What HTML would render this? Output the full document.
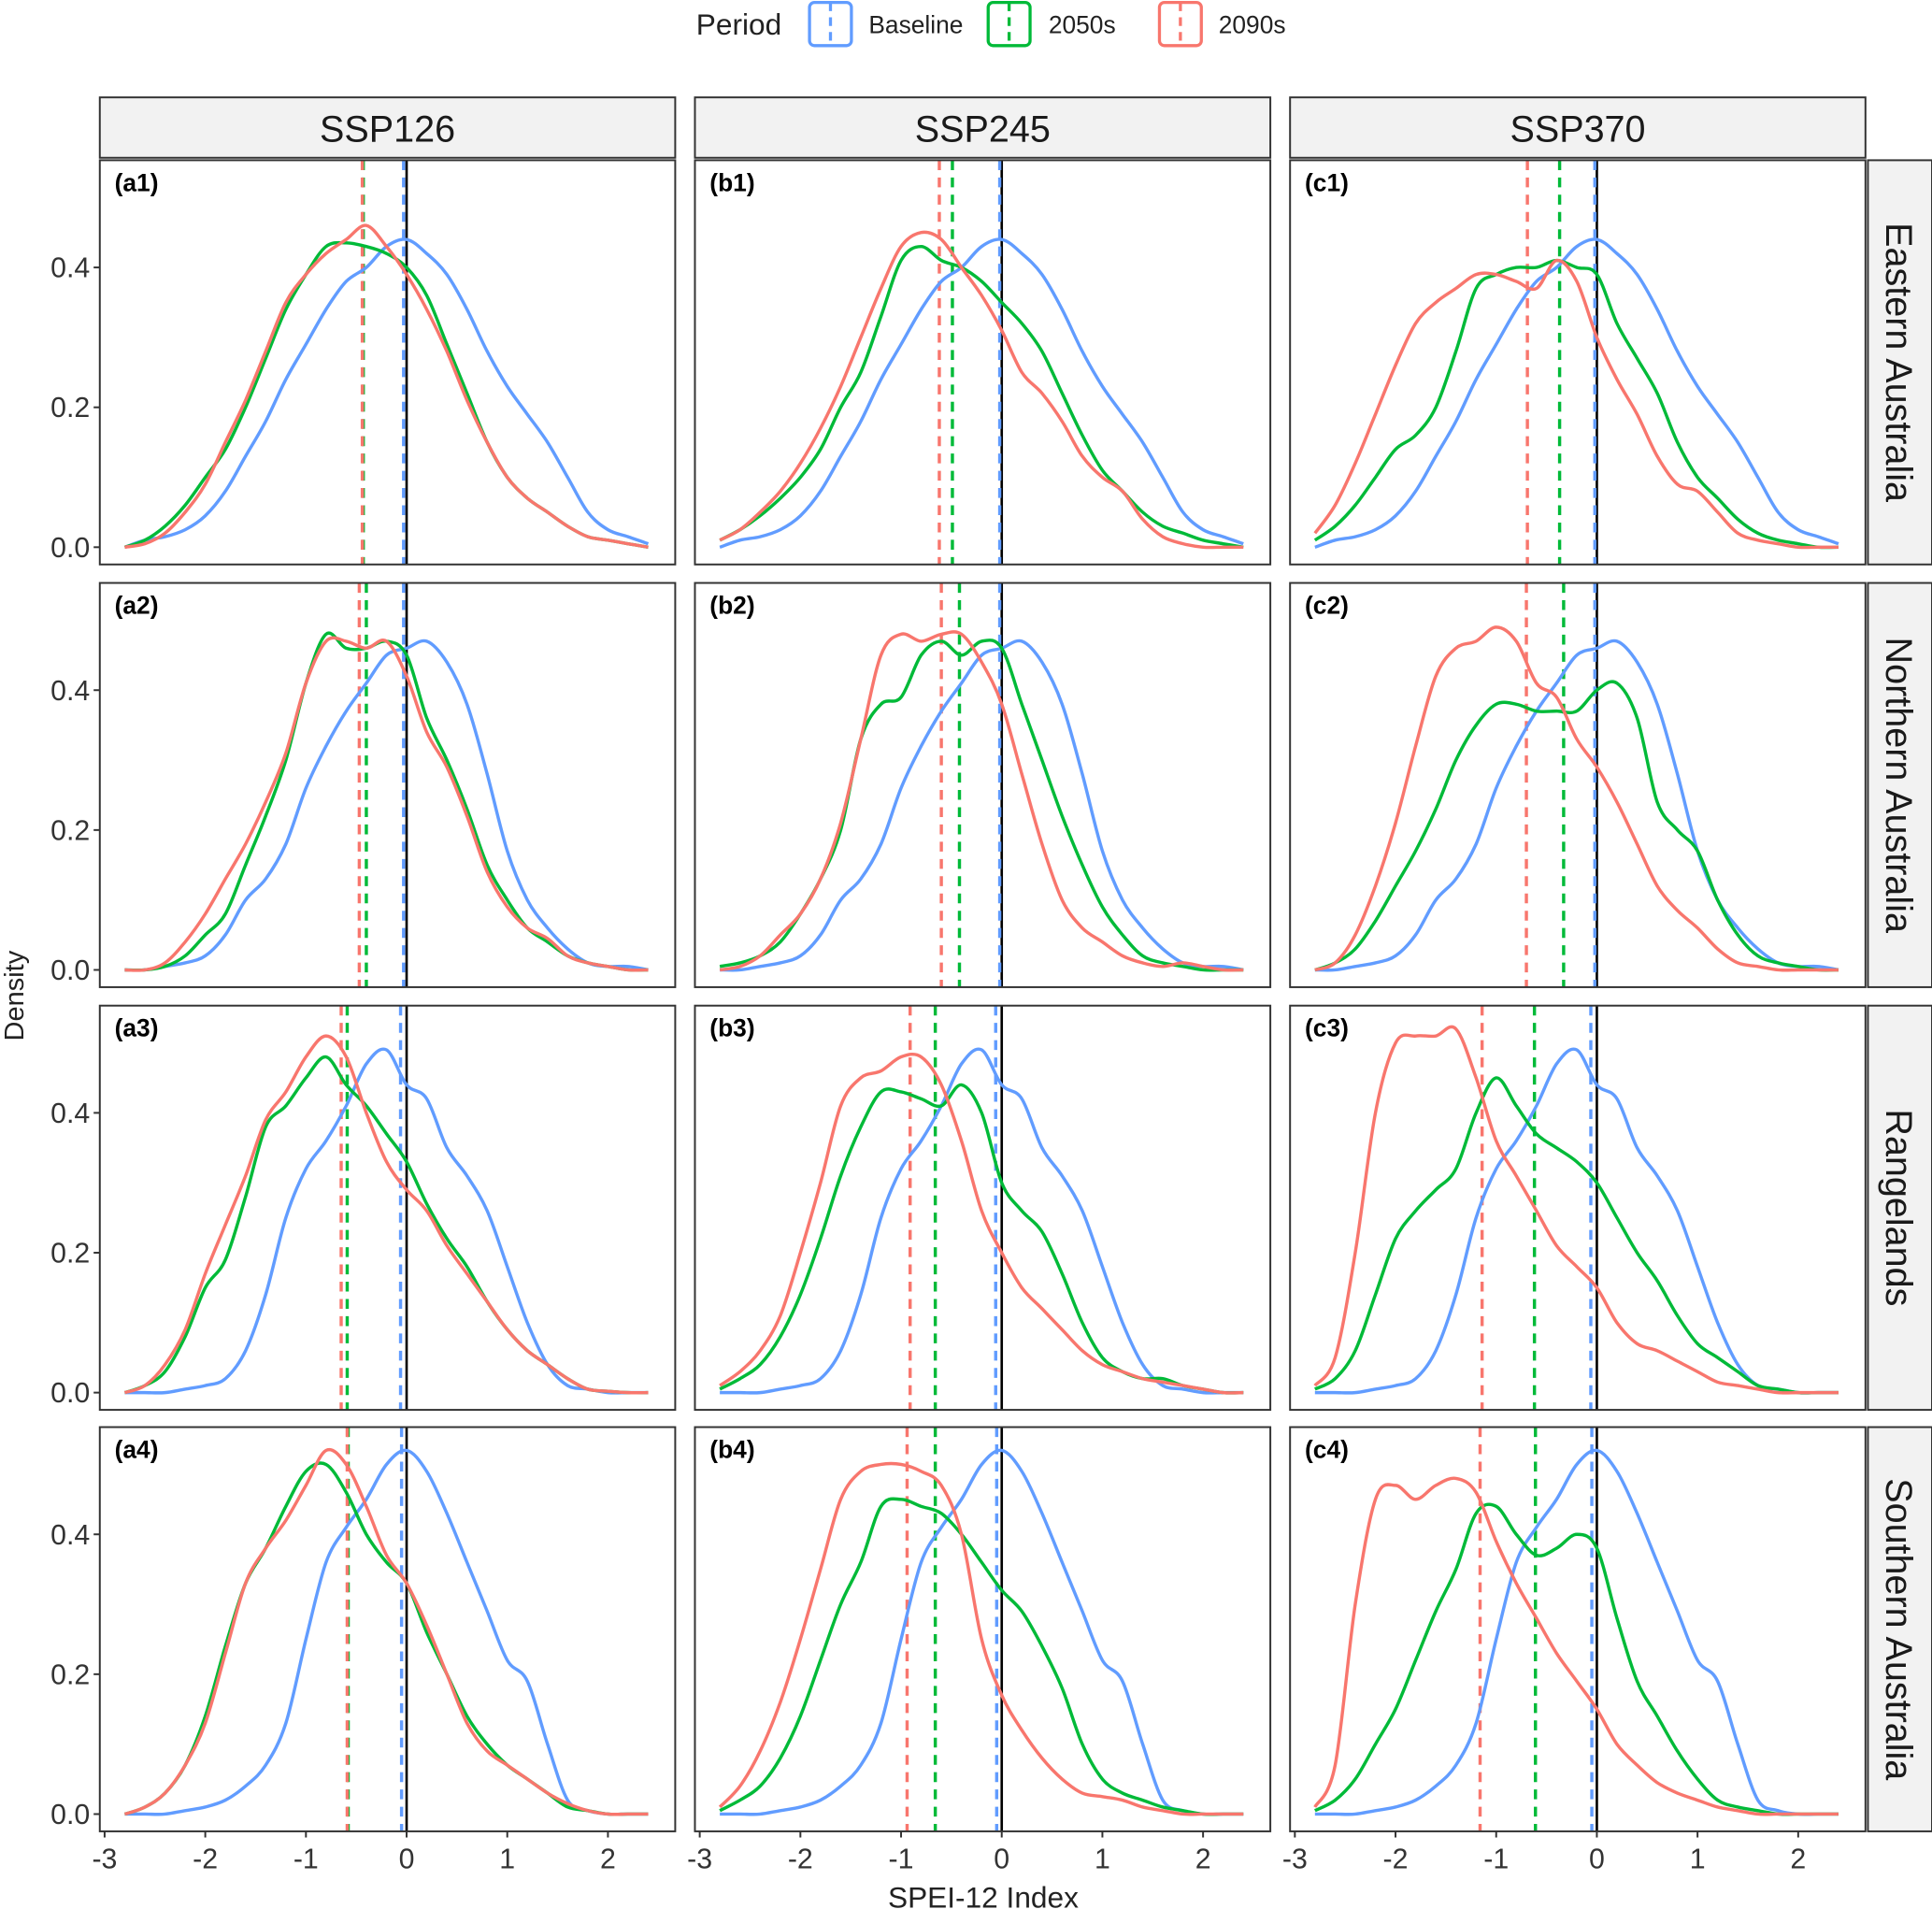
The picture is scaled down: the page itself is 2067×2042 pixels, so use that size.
<!DOCTYPE html>
<html><head><meta charset="utf-8"><style>
html,body{margin:0;padding:0;background:#fff}
svg{display:block;font-family:"Liberation Sans",Arial,sans-serif}
</style></head><body>
<svg id="chart" width="2067" height="2042" viewBox="0 0 1568 1549" xmlns="http://www.w3.org/2000/svg">
<g id="legend">
<text x="565" y="28" font-size="24" fill="#222">Period</text>
<g><rect x="657" y="2" width="34" height="35" rx="4" fill="#fff" stroke="#619CFF" stroke-width="2.5"/><line x1="674" y1="2" x2="674" y2="37" stroke="#619CFF" stroke-width="2.5" stroke-dasharray="7,5"/><text x="705" y="27" font-size="20" fill="#222">Baseline</text></g>
<g><rect x="802" y="2" width="34" height="35" rx="4" fill="#fff" stroke="#00BA38" stroke-width="2.5"/><line x1="819" y1="2" x2="819" y2="37" stroke="#00BA38" stroke-width="2.5" stroke-dasharray="7,5"/><text x="851" y="27" font-size="20" fill="#222">2050s</text></g>
<g><rect x="941" y="2" width="34" height="35" rx="4" fill="#fff" stroke="#F8766D" stroke-width="2.5"/><line x1="958" y1="2" x2="958" y2="37" stroke="#F8766D" stroke-width="2.5" stroke-dasharray="7,5"/><text x="989" y="27" font-size="20" fill="#222">2090s</text></g>
</g>
<text x="798" y="1548" font-size="24" text-anchor="middle" fill="#222">SPEI-12 Index</text>
<text transform="translate(19,808) rotate(-90)" font-size="22" text-anchor="middle" fill="#222">Density</text>
<g id="panels"></g>
</svg>
<script>
const xGrid = [-2.8,-2.6,-2.4,-2.2,-2,-1.8,-1.6,-1.4,-1.2,-1,-0.8,-0.6,-0.4,-0.2,0,0.2,0.4,0.6,0.8,1,1.2,1.4,1.6,1.8,2,2.2,2.4];
const scenarios = ["SSP126","SSP245","SSP370"];
const regions = ["Eastern Australia","Northern Australia","Rangelands","Southern Australia"];
const xTicks = [-3,-2,-1,0,1,2];
const yTicks = [0,0.2,0.4];
const baseline = [
 [0,0.01,0.015,0.025,0.045,0.08,0.13,0.18,0.24,0.29,0.34,0.38,0.40,0.43,0.44,0.42,0.39,0.34,0.28,0.23,0.19,0.15,0.10,0.05,0.025,0.015,0.005],
 [0,0,0.005,0.01,0.02,0.05,0.1,0.13,0.18,0.26,0.32,0.37,0.41,0.45,0.46,0.47,0.44,0.38,0.28,0.17,0.1,0.06,0.03,0.01,0.005,0.005,0],
 [0,0,0,0.005,0.01,0.02,0.06,0.14,0.25,0.32,0.36,0.41,0.47,0.49,0.44,0.42,0.35,0.31,0.26,0.18,0.1,0.04,0.01,0.005,0,0,0],
 [0,0,0,0.005,0.01,0.02,0.04,0.07,0.13,0.25,0.36,0.41,0.45,0.50,0.52,0.49,0.43,0.36,0.29,0.22,0.19,0.1,0.02,0.005,0,0,0]
];
const s2050 = [
 [[0,0.01,0.03,0.06,0.1,0.14,0.2,0.27,0.34,0.39,0.43,0.435,0.43,0.42,0.40,0.36,0.29,0.22,0.15,0.10,0.07,0.05,0.03,0.015,0.01,0.005,0],
  [0.01,0.025,0.045,0.07,0.1,0.14,0.2,0.25,0.33,0.41,0.43,0.41,0.40,0.38,0.35,0.32,0.28,0.22,0.16,0.11,0.08,0.05,0.03,0.02,0.01,0.005,0],
  [0.01,0.03,0.06,0.1,0.14,0.16,0.2,0.28,0.37,0.39,0.40,0.40,0.41,0.40,0.39,0.32,0.27,0.22,0.15,0.10,0.07,0.04,0.02,0.01,0.005,0,0]],
 [[0,0,0.005,0.02,0.05,0.08,0.15,0.22,0.3,0.41,0.48,0.46,0.46,0.47,0.45,0.36,0.30,0.23,0.15,0.1,0.06,0.04,0.02,0.01,0.005,0,0],
  [0.005,0.01,0.02,0.04,0.08,0.13,0.2,0.33,0.38,0.39,0.45,0.47,0.45,0.47,0.46,0.38,0.30,0.22,0.15,0.09,0.05,0.02,0.01,0.005,0,0,0],
  [0,0.01,0.03,0.07,0.12,0.17,0.23,0.3,0.35,0.38,0.38,0.37,0.37,0.37,0.40,0.41,0.36,0.24,0.2,0.17,0.1,0.05,0.02,0.01,0.005,0,0]],
 [[0,0.01,0.03,0.08,0.15,0.19,0.28,0.38,0.41,0.45,0.48,0.44,0.41,0.37,0.33,0.27,0.22,0.18,0.13,0.09,0.06,0.04,0.02,0.005,0.002,0,0],
  [0.005,0.02,0.04,0.08,0.14,0.22,0.31,0.38,0.43,0.43,0.42,0.41,0.44,0.40,0.30,0.26,0.23,0.17,0.10,0.05,0.03,0.02,0.02,0.01,0.005,0,0],
  [0.005,0.02,0.06,0.14,0.22,0.26,0.29,0.32,0.4,0.45,0.41,0.37,0.35,0.33,0.30,0.25,0.20,0.16,0.11,0.07,0.05,0.03,0.01,0.005,0,0,0]],
 [[0,0.01,0.03,0.07,0.14,0.24,0.33,0.38,0.44,0.49,0.50,0.46,0.40,0.36,0.33,0.26,0.20,0.14,0.10,0.07,0.05,0.03,0.01,0.005,0,0,0],
  [0.005,0.02,0.04,0.08,0.14,0.22,0.30,0.36,0.44,0.45,0.44,0.43,0.40,0.36,0.32,0.29,0.24,0.18,0.1,0.05,0.03,0.02,0.01,0.005,0,0,0],
  [0.005,0.02,0.05,0.1,0.15,0.22,0.29,0.35,0.43,0.44,0.40,0.37,0.38,0.40,0.38,0.28,0.19,0.14,0.09,0.05,0.02,0.01,0.005,0,0,0,0]]
];
const s2090 = [
 [[0,0.005,0.02,0.05,0.09,0.15,0.21,0.28,0.35,0.39,0.42,0.44,0.46,0.43,0.39,0.34,0.28,0.21,0.15,0.10,0.07,0.05,0.03,0.015,0.01,0.005,0],
  [0.01,0.025,0.05,0.08,0.12,0.17,0.23,0.3,0.37,0.43,0.45,0.44,0.40,0.36,0.31,0.25,0.22,0.18,0.13,0.10,0.08,0.04,0.015,0.005,0,0,0],
  [0.02,0.06,0.12,0.19,0.26,0.32,0.35,0.37,0.39,0.39,0.38,0.37,0.41,0.38,0.30,0.24,0.19,0.13,0.09,0.08,0.05,0.02,0.01,0.005,0,0,0]],
 [[0,0,0.01,0.04,0.08,0.13,0.18,0.24,0.31,0.41,0.47,0.47,0.46,0.47,0.42,0.34,0.29,0.22,0.14,0.09,0.06,0.045,0.02,0.01,0.005,0,0],
  [0,0.005,0.02,0.05,0.08,0.13,0.21,0.33,0.45,0.48,0.47,0.48,0.48,0.44,0.38,0.28,0.18,0.1,0.06,0.04,0.02,0.01,0.005,0.01,0.005,0,0],
  [0,0.01,0.05,0.12,0.21,0.32,0.42,0.46,0.47,0.49,0.47,0.41,0.39,0.33,0.29,0.24,0.18,0.12,0.085,0.06,0.03,0.01,0.005,0,0,0,0]],
 [[0,0.01,0.04,0.09,0.17,0.24,0.31,0.39,0.43,0.48,0.51,0.48,0.40,0.33,0.29,0.26,0.21,0.17,0.13,0.09,0.06,0.04,0.02,0.005,0.002,0,0],
  [0.01,0.03,0.06,0.11,0.2,0.3,0.41,0.45,0.46,0.48,0.48,0.44,0.36,0.26,0.2,0.15,0.12,0.09,0.06,0.04,0.03,0.02,0.015,0.01,0.005,0,0],
  [0.01,0.05,0.2,0.4,0.5,0.51,0.51,0.52,0.45,0.36,0.31,0.26,0.21,0.18,0.15,0.1,0.07,0.06,0.045,0.03,0.015,0.01,0.005,0,0,0,0]],
 [[0,0.01,0.03,0.07,0.13,0.23,0.33,0.38,0.42,0.47,0.52,0.50,0.44,0.37,0.33,0.27,0.2,0.13,0.09,0.07,0.05,0.03,0.015,0.005,0,0,0],
  [0.01,0.04,0.09,0.16,0.25,0.35,0.45,0.49,0.50,0.50,0.49,0.47,0.40,0.25,0.17,0.12,0.08,0.05,0.03,0.025,0.02,0.01,0.005,0,0,0,0],
  [0.01,0.07,0.3,0.45,0.47,0.45,0.47,0.48,0.46,0.39,0.33,0.28,0.23,0.19,0.15,0.1,0.07,0.045,0.03,0.02,0.01,0.005,0,0,0,0,0]]
];
const meanBaseline = [[-0.03,-0.02,-0.02],[-0.03,-0.02,-0.02],[-0.06,-0.06,-0.06],[-0.05,-0.05,-0.05]];
const mean2050 = [[-0.43,-0.49,-0.37],[-0.40,-0.42,-0.33],[-0.59,-0.66,-0.62],[-0.58,-0.66,-0.61]];
const mean2090 = [[-0.44,-0.62,-0.69],[-0.47,-0.60,-0.70],[-0.65,-0.91,-1.14],[-0.59,-0.94,-1.16]];
const panelTags = [["(a1)","(b1)","(c1)"],["(a2)","(b2)","(c2)"],["(a3)","(b3)","(c3)"],["(a4)","(b4)","(c4)"]];

const NS="http://www.w3.org/2000/svg";
const colLeft=[81,564,1047], rowTop=[130,473,816,1158], PW=467, PH=328;
const root=document.getElementById('panels');
function mk(tag,attrs,parent){const e=document.createElementNS(NS,tag);for(const k in attrs)e.setAttribute(k,attrs[k]);parent.appendChild(e);return e;}
function xs(c,v){return colLeft[c]+249+v*81.7;}
function ys(r,v){return rowTop[r]+314-v*567.5;}
function pathFor(c,r,vals){
 const pts=xGrid.map((x,i)=>[xs(c,x),ys(r,vals[i])]);
 let d="M"+pts[0][0].toFixed(1)+","+pts[0][1].toFixed(1);
 for(let i=0;i<pts.length-1;i++){
  const p0=pts[Math.max(0,i-1)],p1=pts[i],p2=pts[i+1],p3=pts[Math.min(pts.length-1,i+2)];
  const c1=[p1[0]+(p2[0]-p0[0])/6,p1[1]+(p2[1]-p0[1])/6],c2=[p2[0]-(p3[0]-p1[0])/6,p2[1]-(p3[1]-p1[1])/6];
  d+=" C"+c1.map(v=>v.toFixed(1))+" "+c2.map(v=>v.toFixed(1))+" "+p2.map(v=>v.toFixed(1));
 }
 return d;
}
// top strips
scenarios.forEach((s,c)=>{
 const g=mk('g',{},root);
 
 
 mk('rect',{x:colLeft[c],y:79,width:PW,height:49,fill:'#F2F2F2',stroke:'#333','stroke-width':1.5},g);
 const t=mk('text',{x:colLeft[c]+PW/2,y:115,'font-size':30,'text-anchor':'middle',fill:'#1a1a1a'},g);t.textContent=s;
});
regions.forEach((rg,r)=>{
 const g=mk('g',{},root);
 
 
 mk('rect',{x:1516,y:rowTop[r],width:52,height:PH,fill:'#F2F2F2',stroke:'#333','stroke-width':1.5},g);
 const t=mk('text',{transform:`translate(1531,${rowTop[r]+PH/2}) rotate(90)`,'font-size':30,'text-anchor':'middle',fill:'#1a1a1a'},g);t.textContent=rg;
});
for(let r=0;r<4;r++)for(let c=0;c<3;c++){
 const g=mk('g',{},root);
 
 
 const cp='cp'+r+c;
 const cl=mk('clipPath',{id:cp},g);mk('rect',{x:colLeft[c],y:rowTop[r],width:PW,height:PH},cl);
 const inner=mk('g',{'clip-path':`url(#${cp})`},g);
 mk('line',{x1:xs(c,0),x2:xs(c,0),y1:rowTop[r],y2:rowTop[r]+PH,stroke:'#000','stroke-width':2},inner);
 const series=[[baseline[r],'#619CFF','baseline',meanBaseline[r][c]],[s2050[r][c],'#00BA38','2050s',mean2050[r][c]],[s2090[r][c],'#F8766D','2090s',mean2090[r][c]]];
 series.forEach(([vals,col,nm,m])=>{
  const v=mk('line',{x1:xs(c,m),x2:xs(c,m),y1:rowTop[r],y2:rowTop[r]+PH,stroke:col,'stroke-width':2.6,'stroke-dasharray':'8,6'},inner);
  
  
 });
 series.forEach(([vals,col,nm])=>{
  const p=mk('path',{d:pathFor(c,r,vals),fill:'none',stroke:col,'stroke-width':2.6},inner);
  
  
 });
 mk('rect',{x:colLeft[c],y:rowTop[r],width:PW,height:PH,fill:'none',stroke:'#333','stroke-width':1.5},g);
 const tg=mk('text',{x:colLeft[c]+12,y:rowTop[r]+25,'font-size':20,'font-weight':'bold',fill:'#000'},g);tg.textContent=panelTags[r][c];
 if(c===0){yTicks.forEach(t=>{
  mk('line',{x1:colLeft[0]-5,x2:colLeft[0],y1:ys(r,t),y2:ys(r,t),stroke:'#333','stroke-width':1.5},g);
  const tx=mk('text',{x:colLeft[0]-8,y:ys(r,t)+8,'font-size':23,'text-anchor':'end',fill:'#333'},g);tx.textContent=t.toFixed(1);
  
  
 });}
 if(r===3){xTicks.forEach(t=>{
  mk('line',{x1:xs(c,t),x2:xs(c,t),y1:rowTop[3]+PH,y2:rowTop[3]+PH+5,stroke:'#333','stroke-width':1.5},g);
  const tx=mk('text',{x:xs(c,t),y:rowTop[3]+PH+30,'font-size':23,'text-anchor':'middle',fill:'#333'},g);tx.textContent=t;
  
  
 });}
}
</script>
</body></html>
